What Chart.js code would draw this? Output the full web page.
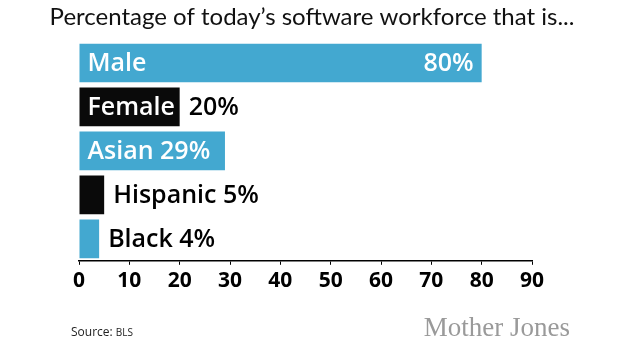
<!DOCTYPE html>
<html>
<head>
<meta charset="utf-8">
<script src="https://cdn.jsdelivr.net/npm/chart.js@4"></script>
<style>
  html, body { margin: 0; padding: 0; background: #fff; }
  #wrap { width: 630px; height: 344px; position: relative; }
</style>
</head>
<body>
<div id="wrap"><canvas id="chart" width="630" height="344"></canvas></div>
<script>
// data
const categories = ["Male", "Female", "Asian", "Hispanic", "Black"];
const shares = [80, 20, 29, 5, 4];
const barColors = ["#43a8d0", "#0a0a0a", "#43a8d0", "#0a0a0a", "#43a8d0"];
const xTicks = [0, 10, 20, 30, 40, 50, 60, 70, 80, 90];

const titleText = "Percentage of today\u2019s software workforce that is...";
const sourceText = "Source: ";
const sourceOrg = "BLS";
const brandText = "Mother Jones";

const labelFont = "600 25px 'Open Sans'";

// draws name + percent on each bar, inside when it fits, outside otherwise
const barLabels = {
  id: "barLabels",
  afterDatasetsDraw(chart) {
    const ctx = chart.ctx;
    const meta = chart.getDatasetMeta(0);
    ctx.save();
    ctx.font = labelFont;
    ctx.textBaseline = "middle";
    meta.data.forEach((bar, i) => {
      const name = categories[i];
      const pct = shares[i] + "%";
      const left = bar.base;
      const right = bar.x;
      const w = right - left;
      const y = bar.y + 1;
      const pad = 8, gap = 9;
      const nameW = ctx.measureText(name).width;
      const pctW = ctx.measureText(pct).width;
      const spaceW = ctx.measureText(" ").width;
      ctx.textAlign = "left";
      if (w > 300) {
        ctx.fillStyle = "#fff";
        ctx.fillText(name, left + pad, y);
        ctx.textAlign = "right";
        ctx.fillText(pct, right - pad, y);
      } else if (nameW + spaceW + pctW + pad + 4 <= w) {
        ctx.fillStyle = "#fff";
        ctx.fillText(name + " " + pct, left + pad, y);
      } else if (nameW + pad + 2 <= w) {
        ctx.fillStyle = "#fff";
        ctx.fillText(name, left + pad, y);
        ctx.fillStyle = "#000";
        ctx.fillText(pct, right + gap, y);
      } else {
        ctx.fillStyle = "#000";
        ctx.fillText(name + " " + pct, right + gap, y);
      }
    });
    ctx.restore();
  }
};

// title, source line and logo text
const decorations = {
  id: "decorations",
  beforeDraw(chart) {
    const ctx = chart.ctx;
    ctx.save();
    ctx.fillStyle = "#fff";
    ctx.fillRect(0, 0, chart.width, chart.height);
    ctx.restore();
  },
  afterDraw(chart) {
    const ctx = chart.ctx;
    ctx.save();
    ctx.fillStyle = "#111";
    ctx.font = "24px Lato";
    ctx.textAlign = "center";
    ctx.textBaseline = "alphabetic";
    ctx.fillText(titleText, 312, 25);

    ctx.textAlign = "left";
    ctx.fillStyle = "#222";
    ctx.font = "12px 'Open Sans'";
    ctx.fillText(sourceText, 71, 336);
    const sw = ctx.measureText(sourceText).width;
    ctx.font = "10px 'Open Sans'";
    ctx.fillText(sourceOrg, 71 + sw, 336);

    ctx.fillStyle = "#9a9a9a";
    ctx.font = "27px 'Liberation Serif'";
    ctx.textAlign = "right";
    ctx.fillText(brandText, 570, 336);
    ctx.restore();
  }
};

new Chart(document.getElementById("chart"), {
  type: "bar",
  data: {
    labels: categories,
    datasets: [{
      data: shares,
      backgroundColor: barColors,
      borderWidth: 0,
      categoryPercentage: 1,
      barPercentage: 0.88
    }]
  },
  options: {
    indexAxis: "y",
    responsive: false,
    animation: false,
    layout: { padding: { top: 41, left: 79, right: 98, bottom: 46 } },
    plugins: {
      legend: { display: false },
      tooltip: { enabled: false }
    },
    scales: {
      y: { display: false },
      x: {
        min: 0,
        max: 90,
        afterBuildTicks: axis => { axis.ticks = xTicks.map(v => ({ value: v })); },
        grid: { drawOnChartArea: false, drawTicks: true, tickLength: 4, color: "#000", lineWidth: 1 },
        border: { display: true, color: "#000", width: 1.5 },
        ticks: {
          color: "#000",
          padding: 4,
          font: { family: "'Open Sans'", size: 21, weight: "bold" }
        }
      }
    }
  },
  plugins: [decorations, barLabels]
});
</script>
</body>
</html>
